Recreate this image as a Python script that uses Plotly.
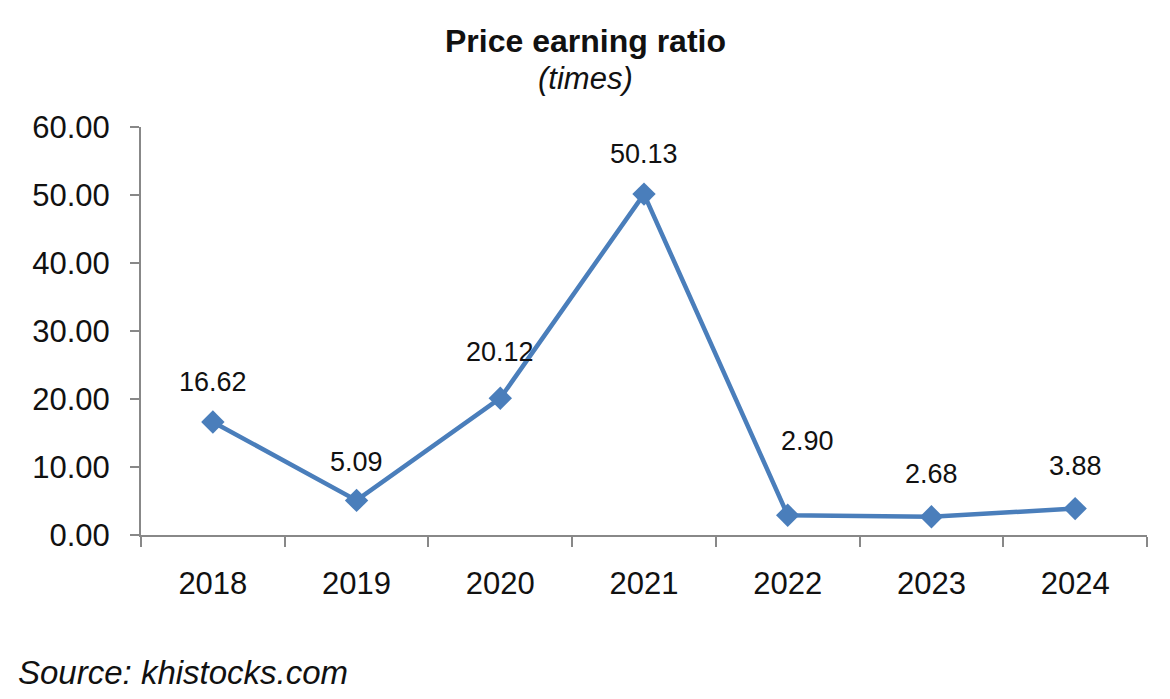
import plotly.graph_objects as go

years = ["2018", "2019", "2020", "2021", "2022", "2023", "2024"]
pe_ratio = [16.62, 5.09, 20.12, 50.13, 2.90, 2.68, 3.88]
y_ticks = [0, 10, 20, 30, 40, 50, 60]

label_shift = [40, 38, 46, 40, 74, 43, 43]
label_xshift = [0, 0, 0, 0, 20, 0, 0]

FONT = "Liberation Sans, Arial, sans-serif"
COLOR = "#4a7ebb"

fig = go.Figure()
fig.add_trace(go.Scatter(
    x=list(range(len(years))), y=pe_ratio, mode="lines+markers",
    line=dict(color=COLOR, width=4.5),
    marker=dict(symbol="diamond", size=18, color=COLOR),
    hoverinfo="y", showlegend=False,
))

for i, v in enumerate(pe_ratio):
    fig.add_annotation(x=i, y=v, text=f"{v:.2f}", showarrow=False,
                       yshift=label_shift[i], xshift=label_xshift[i],
                       font=dict(family=FONT, size=27, color="#111111"))

fig.add_annotation(xref="paper", yref="paper", x=0.442, y=1.0, yshift=106,
                   text="<b>Price earning ratio</b>", showarrow=False,
                   font=dict(family=FONT, size=32, color="#111111"))
fig.add_annotation(xref="paper", yref="paper", x=0.442, y=1.0, yshift=68,
                   text="<i>(times)</i>", showarrow=False,
                   font=dict(family=FONT, size=31, color="#111111"))
fig.add_annotation(xref="paper", yref="paper", x=-0.124, y=0, yshift=-158,
                   xanchor="left", text="<i>Source: khistocks.com</i>", showarrow=False,
                   font=dict(family=FONT, size=33, color="#111111"))

fig.update_layout(
    width=1170, height=699,
    margin=dict(l=141, r=23, t=127, b=164),
    paper_bgcolor="white", plot_bgcolor="white",
    font=dict(family=FONT, color="#111111"),
)
fig.update_xaxes(
    range=[-0.5, 6.5], tickvals=list(range(len(years))), ticktext=years,
    showline=True, linecolor="#888888", linewidth=2,
    ticks="", showgrid=False, zeroline=False,
    ticklabelstandoff=20,
    tickfont=dict(family=FONT, size=31, color="#111111"),
)
fig.update_xaxes(minor=dict(tickvals=[i - 0.5 for i in range(len(years) + 1)],
                            ticks="outside", ticklen=10, tickwidth=2, tickcolor="#888888",
                            showgrid=False))
fig.update_yaxes(
    range=[0, 60], tickvals=y_ticks, ticktext=[f"{t:.2f}" for t in y_ticks],
    showline=True, linecolor="#888888", linewidth=2,
    ticks="outside", ticklen=9, tickwidth=2, tickcolor="#888888",
    showgrid=False, zeroline=False,
    ticklabelstandoff=14,
    tickfont=dict(family=FONT, size=31, color="#111111"),
)

fig.write_html("out.html")
